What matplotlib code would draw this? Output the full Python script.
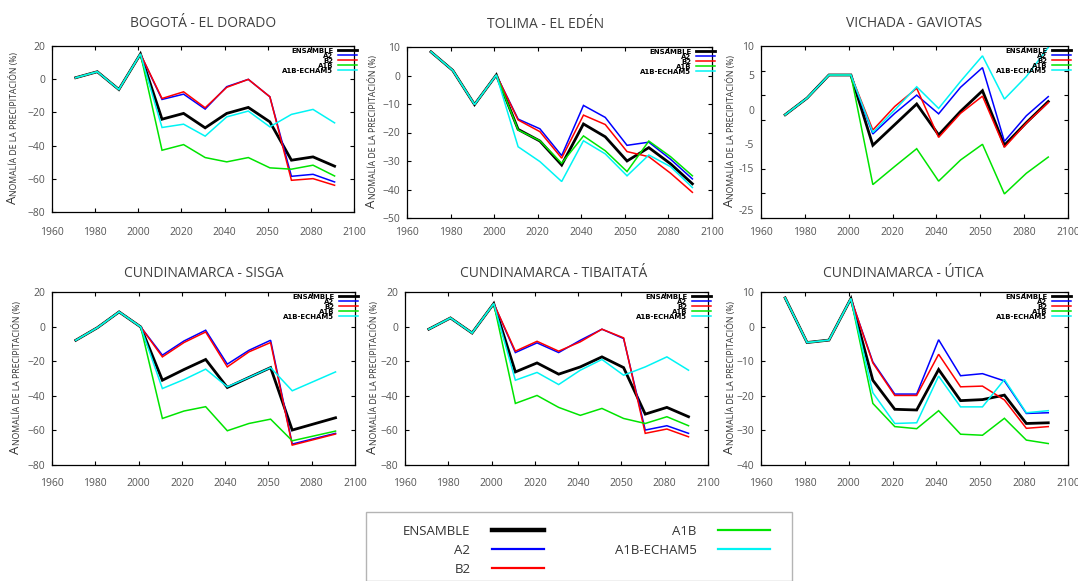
import matplotlib
matplotlib.use('Agg')
import matplotlib.pyplot as plt
from matplotlib.patches import Rectangle

W, H = 1078, 581
FONT = ['Open Sans', 'DejaVu Sans']
plt.rcParams['font.family'] = FONT

SERIES = ['ENSAMBLE', 'A2', 'B2', 'A1B', 'A1B-ECHAM5']
COLORS = ['#000000', '#0000ff', '#ff0000', '#00e400', '#00f4f4']
WIDTHS = [2.0, 1.1, 1.1, 1.1, 1.1]

X_TICKS = [1960, 1980, 2000, 2020, 2040, 2060, 2080, 2100]
X_TICK_LABELS = ['1960', '1980', '2000', '2020', '2040', '2050', '2080', '2100']

years = [1971, 1981, 1991, 2001, 2011, 2021, 2031, 2041, 2051, 2061, 2071, 2081, 2091]
years_sisga = [1971, 1981, 1991, 2001, 2011, 2021, 2031, 2041, 2051, 2061, 2071, 2091]

# BOGOTA - EL DORADO
bogota_ens = [0.9, 4.5, -6.2, 15.2, -24.1, -20.6, -29.3, -20.6, -17.0, -25.7, -48.8, -46.8, -52.4]
bogota_a2 = [0.9, 4.5, -6.2, 15.2, -12.2, -9.0, -18.0, -4.5, -0.1, -10.6, -58.5, -57.3, -61.9]
bogota_b2 = [0.9, 4.5, -6.2, 15.2, -11.6, -7.6, -17.2, -4.9, -0.1, -10.6, -60.9, -59.9, -63.9]
bogota_a1b = [0.9, 4.5, -6.2, 15.2, -42.8, -39.4, -47.2, -49.8, -47.2, -53.4, -54.2, -51.8, -58.3]
bogota_echam = [0.9, 4.5, -6.2, 15.2, -29.1, -27.1, -34.3, -22.7, -19.2, -28.7, -21.2, -18.2, -26.3]

# TOLIMA - EL EDEN
tolima_ens = [8.3, 1.8, -10.2, 0.2, -18.9, -23.0, -31.4, -17.0, -21.5, -30.0, -25.3, -31.0, -38.0]
tolima_a2 = [8.3, 1.8, -10.2, 0.2, -15.3, -18.7, -28.1, -10.5, -14.7, -24.5, -23.4, -29.4, -36.3]
tolima_b2 = [8.3, 1.8, -10.2, 0.2, -15.6, -19.7, -29.0, -13.9, -17.2, -26.7, -28.5, -34.3, -41.0]
tolima_a1b = [8.3, 1.8, -10.2, 0.2, -19.1, -22.9, -30.8, -21.2, -26.4, -33.7, -23.0, -28.5, -35.2]
tolima_echam = [8.3, 1.8, -10.2, 0.2, -25.0, -30.2, -37.2, -22.9, -27.5, -35.2, -27.9, -32.0, -39.3]

# VICHADA - GAVIOTAS
vichada_ens = [-4.0, -0.6, 4.1, 4.1, -10.2, -6.0, -1.8, -8.1, -3.3, 0.9, -10.2, -5.6, -1.3]
vichada_a2 = [-4.0, -0.6, 4.1, 4.1, -7.9, -3.7, 0.0, -3.8, 1.6, 5.6, -9.4, -4.2, -0.3]
vichada_b2 = [-4.0, -0.6, 4.1, 4.1, -7.1, -2.3, 1.4, -8.6, -3.7, -0.2, -10.6, -5.7, -1.5]
vichada_a1b = [-4.0, -0.6, 4.1, 4.1, -18.2, -14.5, -10.9, -17.5, -13.2, -10.0, -20.1, -15.9, -12.6]
vichada_echam = [-4.0, -0.6, 4.1, 4.1, -7.6, -3.0, 1.7, -2.7, 2.8, 8.0, -0.8, 3.8, 9.7]
vichada_ylabel_pos = [10, 4.1, -3.0, -10.0, -14.8, -23.4]
vichada_ylabels = ['10', '5', '0', '-5', '-15', '-25']

# CUNDINAMARCA - SISGA
sisga_ens = [-7.9, -0.6, 8.5, -0.2, -31.0, -24.8, -19.0, -35.2, -29.4, -23.7, -59.8, -52.7]
sisga_a2 = [-7.9, -0.6, 8.5, -0.2, -16.5, -8.3, -2.1, -21.7, -13.7, -7.9, -67.9, -61.7]
sisga_b2 = [-7.9, -0.6, 8.5, -0.2, -17.5, -9.2, -3.1, -23.3, -14.6, -9.2, -68.5, -62.1]
sisga_a1b = [-7.9, -0.6, 8.5, -0.2, -53.1, -48.8, -46.3, -60.2, -56.0, -53.5, -66.0, -60.4]
sisga_echam = [-7.9, -0.6, 8.5, -0.2, -35.8, -30.6, -24.6, -34.8, -29.4, -23.7, -37.1, -26.2]

# CUNDINAMARCA - TIBAITATA
tibaitata_ens = [-1.5, 5.0, -3.7, 13.3, -26.2, -21.0, -27.5, -23.3, -17.5, -23.7, -50.6, -46.7, -52.1]
tibaitata_a2 = [-1.5, 5.0, -3.7, 13.3, -15.0, -9.4, -15.0, -7.9, -1.5, -6.9, -59.8, -57.3, -61.7]
tibaitata_b2 = [-1.5, 5.0, -3.7, 13.3, -14.2, -8.5, -14.2, -8.8, -1.5, -6.5, -61.7, -59.2, -63.7]
tibaitata_a1b = [-1.5, 5.0, -3.7, 13.3, -44.4, -39.8, -46.7, -51.3, -47.3, -53.1, -56.0, -52.1, -57.3]
tibaitata_echam = [-1.5, 5.0, -3.7, 13.3, -31.0, -26.5, -33.5, -25.2, -19.0, -28.1, -23.3, -17.5, -25.2]

# CUNDINAMARCA - UTICA
utica_ens = [8.3, -4.6, -3.9, 8.1, -15.5, -23.9, -24.1, -12.4, -21.4, -21.1, -19.8, -28.0, -27.8]
utica_a2 = [8.3, -4.6, -3.9, 8.1, -10.2, -19.5, -19.5, -3.8, -14.2, -13.6, -15.7, -25.1, -24.9]
utica_b2 = [8.3, -4.6, -3.9, 8.1, -10.5, -19.9, -19.9, -8.0, -17.4, -17.2, -21.2, -29.4, -28.9]
utica_a1b = [8.3, -4.6, -3.9, 8.1, -22.2, -28.9, -29.5, -24.3, -31.1, -31.4, -26.5, -32.8, -33.8]
utica_echam = [8.3, -4.6, -3.9, 8.1, -19.1, -28.0, -27.8, -14.3, -23.2, -23.2, -15.3, -24.9, -24.3]

# title, x, series, ylim, ystep, box (l, r, t, b) px, title x, xpad, ylabel dx px
panels = [
    ('BOGOTÁ - EL DORADO', years,
     [bogota_ens, bogota_a2, bogota_b2, bogota_a1b, bogota_echam],
     (-80, 20), 20, (52, 354, 46, 212), 0.5, 11, -38),
    ('TOLIMA - EL EDÉN', years,
     [tolima_ens, tolima_a2, tolima_b2, tolima_a1b, tolima_echam],
     (-50, 10), 10, (407, 712, 47, 218), 0.455, 6.5, -34),
    ('VICHADA - GAVIOTAS', years,
     [vichada_ens, vichada_a2, vichada_b2, vichada_a1b, vichada_echam],
     (-25, 10), 5, (761, 1068, 46, 218), 0.5, 6.5, -30),
    ('CUNDINAMARCA - SISGA', years_sisga,
     [sisga_ens, sisga_a2, sisga_b2, sisga_a1b, sisga_echam],
     (-80, 20), 20, (52, 355, 292, 465), 0.5, 9, -35),
    ('CUNDINAMARCA - TIBAITATÁ', years,
     [tibaitata_ens, tibaitata_a2, tibaitata_b2, tibaitata_a1b, tibaitata_echam],
     (-80, 20), 20, (405, 708, 292, 465), 0.49, 9, -31),
    ('CUNDINAMARCA - ÚTICA', years,
     [utica_ens, utica_a2, utica_b2, utica_a1b, utica_echam],
     (-40, 10), 10, (761, 1068, 292, 465), 0.465, 9, -30),
]

fig = plt.figure(figsize=(W / 100, H / 100), dpi=100)

handles = None
for i, (title, xs, data, ylim, ystep, box, tx, xpad, ydx) in enumerate(panels):
    l, r, t, b = box
    ax = fig.add_axes([l / W, 1 - b / H, (r - l) / W, (b - t) / H])
    lines = []
    for vals, name, c, lw in zip(data, SERIES, COLORS, WIDTHS):
        ln, = ax.plot(xs, vals, color=c, lw=lw, label=name, solid_joinstyle='miter')
        lines.append(ln)
    if handles is None:
        handles = lines

    ax.set_xlim(1960, 2100)
    ax.set_ylim(*ylim)
    ax.set_xticks(X_TICKS, X_TICK_LABELS)
    if i == 2:
        # tick marks every 5, labels sit where the source figure put them
        ax.set_yticks(vichada_ylabel_pos, vichada_ylabels)
        ax.set_yticks(list(range(ylim[0], ylim[1] + 1, ystep)), minor=True)
        ax.tick_params(axis='y', which='major', length=0)
        ax.tick_params(axis='y', which='minor', direction='in', left=True, right=True,
                       length=3, width=0.8)
    else:
        ax.set_yticks(list(range(ylim[0], ylim[1] + 1, ystep)))
    ax.tick_params(axis='both', which='major', labelsize=7.5, labelcolor='#555555')
    ax.tick_params(axis='x', direction='in', top=True, bottom=True, length=3, width=0.8, pad=xpad)
    if i != 2:
        ax.tick_params(axis='y', direction='in', left=True, right=True, length=3, width=0.8, pad=5)
    else:
        ax.tick_params(axis='y', pad=5)
    for s in ax.spines.values():
        s.set_linewidth(0.9)

    ax.set_title(title, x=tx, fontsize=10, color='#404040', pad=13.5 if i < 3 else 11)

    small = ax.annotate('NOMALÍA DE LA PRECIPITACIÓN (%)', xy=(0, 0.53), xycoords='axes fraction',
                        xytext=(ydx / 1.389, 0), textcoords='offset points',
                        rotation=90, ha='center', va='center', fontsize=6.2, color='#333333')
    ax.annotate('A', xy=(1, 0), xycoords=small, rotation=90, ha='right', va='top',
                fontsize=9.5, color='#333333')

    leg = ax.legend(handles=lines, loc='upper right', bbox_to_anchor=(1.01, 0.99),
                    frameon=False, markerfirst=False, handlelength=2.7, handletextpad=0.7,
                    labelspacing=-0.14, borderpad=0, borderaxespad=0,
                    prop={'family': 'DejaVu Sans', 'weight': 'bold', 'size': 5})

# box of the shared legend
fig.patches.append(Rectangle((366 / W, 0), (792 - 366) / W, 1 - 512 / H, transform=fig.transFigure,
                             facecolor='white', edgecolor='#b4b4b4', lw=1.0, zorder=0))

big = fig.legend(handles=handles, labels=SERIES, ncol=2, loc='upper left',
                 bbox_to_anchor=(403 / W, 1 - 525 / H), frameon=False, markerfirst=False,
                 fontsize=9.5, handlelength=3.94, handletextpad=1.6, columnspacing=5.4,
                 labelspacing=0.44, borderpad=0, borderaxespad=0)
for txt in big.get_texts():
    txt.set_color('#333333')
for ln, lw in zip(big.get_lines(), [3.2, 1.6, 1.6, 1.6, 1.6]):
    ln.set_linewidth(lw)

fig.savefig('out.png', dpi=100)
